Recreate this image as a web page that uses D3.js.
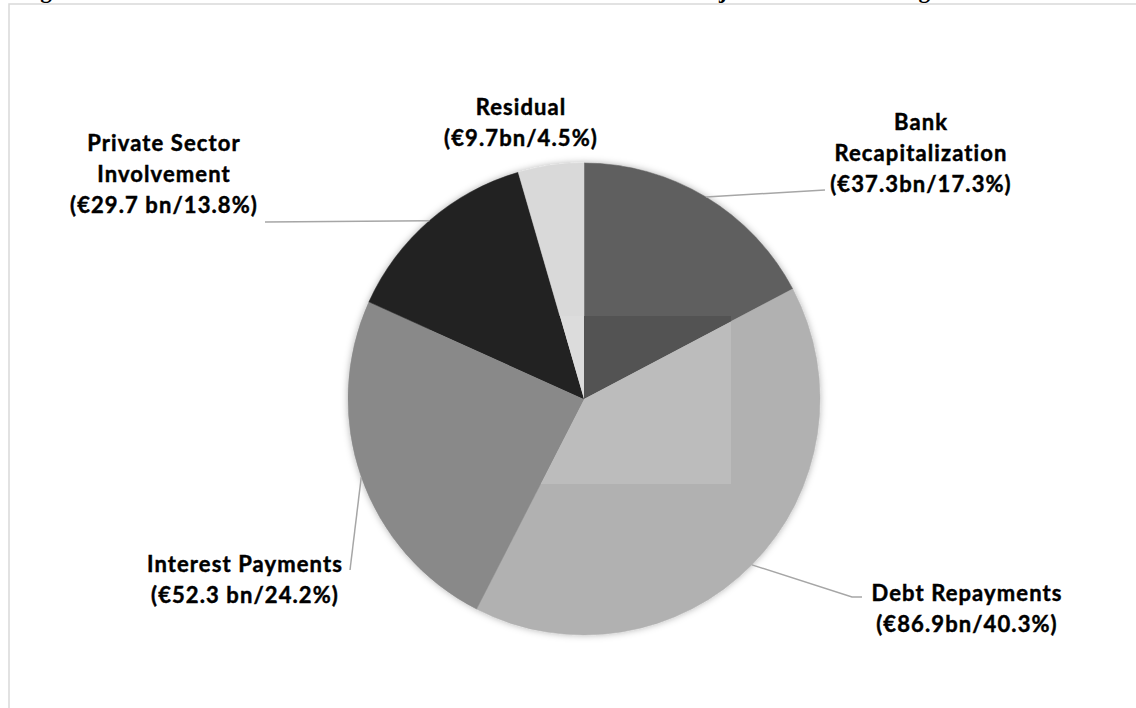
<!DOCTYPE html>
<html>
<head>
<meta charset="utf-8">
<script src="https://cdn.jsdelivr.net/npm/d3@7"></script>
<style>
  body { margin: 0; background: #fff; }
  svg { display: block; }
  .label { font-family: Lato, "Open Sans", sans-serif; font-weight: 700; font-size: 22px; fill: #000; stroke: #000; stroke-width: 0.45px; letter-spacing: 1.1px; }
  .title { font-family: "Liberation Serif", "Times New Roman", serif; font-weight: 700; font-size: 21px; fill: #000; }
  .leader { stroke: #a6a6a6; stroke-width: 1.5; fill: none; }
  .frame { stroke: #d9d9d9; stroke-width: 1.5; fill: none; }
</style>
</head>
<body>
<svg id="chart"></svg>
<script>
// data
const categories = ['Bank Recapitalization', 'Debt Repayments', 'Interest Payments', 'Private Sector Involvement', 'Residual']
const amounts = [37.3, 86.9, 52.3, 29.7, 9.7]
const amountLabels = ['€37.3bn', '€86.9bn', '€52.3 bn', '€29.7 bn', '€9.7bn']
const shareLabels = ['17.3%', '40.3%', '24.2%', '13.8%', '4.5%']
const nameLines = [['Bank', 'Recapitalization'], ['Debt Repayments'], ['Interest Payments'], ['Private Sector', 'Involvement'], ['Residual']]
const titleText = 'Figure 3: Allocation of the Total Amount of Greek Bailout Funds to Major Destination Categories'

const dataset = categories.map((c, i) => ({
  category: c,
  value: amounts[i],
  lines: nameLines[i].concat([`(${amountLabels[i]}/${shareLabels[i]})`])
}))

const width = 1136,
  height = 708
const CENTER = { x: 584, y: 399 }
const RADIUS = 236
const LINE_H = 31

// label placement (center x, baseline of the last line, leader bend points)
const labelLayout = {
  'Bank Recapitalization': { cx: 921, last: 192, leader: [[825, 190]] },
  'Debt Repayments': { cx: 967, last: 632, leader: [[852, 597], [862, 597]] },
  'Interest Payments': { cx: 245, last: 603, leader: [[350, 570]] },
  'Private Sector Involvement': { cx: 164, last: 213, leader: [[265, 222]] },
  'Residual': { cx: 521, last: 146, leader: null }
}

const $svg = d3.select('#chart').attr('width', width).attr('height', height)

const color = d3.scaleOrdinal()
  .domain(categories)
  .range(['#5f5f5f', '#b1b1b1', '#898989', '#222222', '#d9d9d9'])
// the lighter/darker patch behind the centre of the pie
const colorPatch = d3.scaleOrdinal()
  .domain(categories)
  .range(['#535353', '#bcbcbc', '#898989', '#222222', '#dcdcdc'])

const defs = $svg.append('defs')
const shadow = defs.append('filter').attr('id', 'glow')
  .attr('x', '-10%').attr('y', '-10%').attr('width', '120%').attr('height', '120%')
shadow.append('feDropShadow')
  .attr('dx', 0).attr('dy', 0).attr('stdDeviation', 3.5)
  .attr('flood-color', '#000').attr('flood-opacity', 0.3)

defs.append('clipPath').attr('id', 'patch')
  .append('rect')
  .attr('x', 430 - CENTER.x).attr('y', 316 - CENTER.y)
  .attr('width', 731 - 430).attr('height', 484 - 316)

// frame
$svg.append('rect')
  .attr('class', 'frame')
  .attr('x', 9).attr('y', 4)
  .attr('width', width + 20).attr('height', height + 20)

// title, mostly cut off above the frame
const $title = $svg.append('text')
  .attr('class', 'title')
  .attr('x', 20)
  .attr('y', -2)
  .text(titleText)
const tNode = $title.node()
const charMid = i => {
  const e = tNode.getExtentOfChar(i)
  return e.x + e.width / 2
}
const iG = titleText.indexOf('g'),
  iJ = titleText.indexOf('j')
const k = (723 - 46) / (charMid(iJ) - charMid(iG))
$title.style('font-size', `${21 * k}px`)
$title.attr('x', 20 + 46 - charMid(iG))

// pie
const pie = d3.pie().value(d => d.value).sort(null)
const arcs = pie(dataset)
const arc = d3.arc().innerRadius(0).outerRadius(RADIUS)
const edge = d3.arc().innerRadius(RADIUS).outerRadius(RADIUS)

const $gPie = $svg.append('g')
  .attr('transform', `translate(${CENTER.x}, ${CENTER.y})`)

$gPie.append('g')
  .attr('filter', 'url(#glow)')
  .selectAll('path')
  .data(arcs)
  .enter()
  .append('path')
  .attr('d', arc)
  .attr('fill', d => color(d.data.category))
  .attr('stroke', d => color(d.data.category))
  .attr('stroke-width', 0.5)

$gPie.append('g')
  .attr('clip-path', 'url(#patch)')
  .selectAll('path')
  .data(arcs)
  .enter()
  .append('path')
  .attr('d', arc)
  .attr('fill', d => colorPatch(d.data.category))

// leader lines
const $gLabels = $svg.append('g')
arcs.forEach(d => {
  const lay = labelLayout[d.data.category]
  if (!lay.leader) return
  const c = edge.centroid(d)
  const pts = [[CENTER.x + c[0], CENTER.y + c[1]]].concat(lay.leader)
  $gLabels.append('path')
    .attr('class', 'leader')
    .attr('d', d3.line()(pts))
})

// labels
dataset.forEach(d => {
  const lay = labelLayout[d.category]
  const n = d.lines.length
  const t = $gLabels.append('text')
    .attr('class', 'label')
    .attr('text-anchor', 'middle')
  d.lines.forEach((line, i) => {
    t.append('tspan')
      .attr('x', lay.cx)
      .attr('y', lay.last - (n - 1 - i) * LINE_H)
      .text(line)
  })
})
</script>
</body>
</html>
